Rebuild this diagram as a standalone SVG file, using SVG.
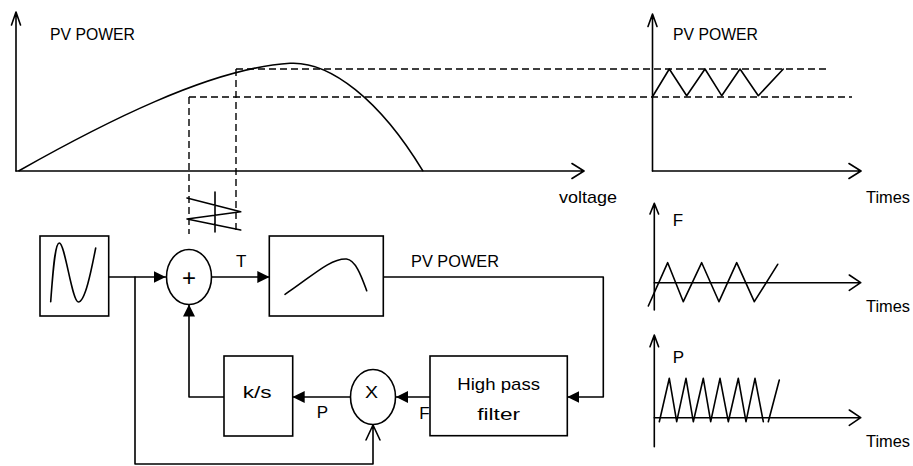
<svg xmlns="http://www.w3.org/2000/svg" width="913" height="466" viewBox="0 0 913 466">
<style>
  .ln{fill:none;stroke:#000;stroke-width:1.6;stroke-linejoin:round;stroke-linecap:round}
  .ds{fill:none;stroke:#000;stroke-width:1.4;stroke-dasharray:7 4}
  .bx{fill:#fff;stroke:#000;stroke-width:1.6}
  .ah{fill:#000;stroke:none}
  text{font-family:"Liberation Sans",Arial,sans-serif;font-size:17px;fill:#000}
</style>
<defs>
  <marker id="tri" viewBox="0 0 12 12" refX="12" refY="6" markerWidth="12" markerHeight="12" markerUnits="userSpaceOnUse" orient="auto">
    <path d="M0,0 L12,6 L0,12 Z" fill="#000"/>
  </marker>
</defs>
<rect width="913" height="466" fill="#fff"/>

<!-- Top-left P-V chart -->
<g id="pv-chart">
  <path class="ln" d="M16,171 V12 M11.5,25 L16,12 L20.5,25"/>
  <path class="ln" d="M16,171 H584 M572,163.5 L584,171 L572,178.5"/>
  <path class="ln" d="M19,170.7 C100,125 210,68 290,63.3 C330,61 380,100 422.7,170.7"/>
  <path class="ds" d="M236,69 H827 M189,97 H852 M189,97 V234 M236,69 V234"/>
  <path class="ln" d="M187,198 L240.7,211.7 L187,219 L240.7,230 M215,192 V232"/>
  <text x="50" y="40" textLength="85" lengthAdjust="spacingAndGlyphs">PV POWER</text>
  <text x="559" y="203" textLength="58" lengthAdjust="spacingAndGlyphs">voltage</text>
</g>

<!-- Top-right power vs time chart -->
<g id="power-time-chart">
  <path class="ln" d="M652.5,171 V14 M648,26.5 L652.5,14 L657,26.5"/>
  <path class="ln" d="M652.5,171 H861 M849,163.5 L861,171 L849,178.5"/>
  <path class="ln" d="M652.3,97 L669.3,69 L686.7,95.7 L705,69 L721.7,95.7 L740,69 L758.3,95.7 L783.3,69"/>
  <text x="673" y="40" textLength="85" lengthAdjust="spacingAndGlyphs">PV POWER</text>
  <text x="866" y="203" textLength="44" lengthAdjust="spacingAndGlyphs">Times</text>
</g>

<!-- F chart -->
<g id="f-chart">
  <path class="ln" d="M654.3,310 V203.3 M650,214 L654.3,203.3 L658.6,214"/>
  <path class="ln" d="M654.3,282.7 H860.7 M849.3,275 L860.7,282.7 L849.3,290.4"/>
  <path class="ln" d="M648.3,306 L667.7,262.7 L683.3,301.7 L701.7,262.7 L719,301.7 L736.7,262.7 L754.3,301.7 L777.7,264.3"/>
  <text x="672.7" y="226">F</text>
  <text x="866" y="312" textLength="44" lengthAdjust="spacingAndGlyphs">Times</text>
</g>

<!-- P chart -->
<g id="p-chart">
  <path class="ln" d="M654.3,446.7 V335 M650,346.7 L654.3,335 L658.6,346.7"/>
  <path class="ln" d="M654.3,417.7 H860.7 M849.3,410 L860.7,417.7 L849.3,425.4"/>
  <path class="ln" d="M659.3,421.7 L669.3,378.3 L676.7,421.7 L686,378.3 L693.3,421.7 L703.3,378.3 L710.7,421.7 L720,378.3 L728.3,421.7 L738.3,378.3 L746,421.7 L755,378.3 L763.3,421.7 M768.3,421.7 L779.3,380"/>
  <text x="672.7" y="363">P</text>
  <text x="866" y="446.5" textLength="44" lengthAdjust="spacingAndGlyphs">Times</text>
</g>

<!-- Connectors -->
<g id="connectors">
  <path class="ln" d="M109,277 H165.7" marker-end="url(#tri)"/>
  <path class="ln" d="M211.5,277 H269.3" marker-end="url(#tri)"/>
  <path class="ln" d="M383.3,277 H603.3 V397 H567.3" marker-end="url(#tri)"/>
  <path class="ln" d="M430,397 H396" marker-end="url(#tri)"/>
  <path class="ln" d="M350.2,397 H292.7" marker-end="url(#tri)"/>
  <path class="ln" d="M224,397 H189 V304.5" marker-end="url(#tri)"/>
  <path class="ln" d="M135,277 V464 H373 V425 M366,440 L373,425 L380,440"/>
  <text x="236" y="266.7">T</text>
  <text x="411" y="266.7" textLength="88" lengthAdjust="spacingAndGlyphs">PV POWER</text>
  <text x="316.7" y="418">P</text>
  <text x="419.3" y="418.5">F</text>
</g>

<!-- Nodes -->
<g id="sine-source">
  <rect class="bx" x="40" y="236" width="68.7" height="80"/>
  <path class="ln" d="M50.7,301.7 C53,270 55,243 59.3,243 C65,243 72,302 78.3,302 C85,302 91,272 95.7,248"/>
</g>
<g id="summer">
  <ellipse class="bx" cx="189" cy="277" rx="22.5" ry="27.5"/>
  <text x="189" y="286" text-anchor="middle" style="font-size:24px">+</text>
</g>
<g id="pv-block">
  <rect class="bx" x="269.3" y="236" width="114" height="80"/>
  <path class="ln" d="M285,294.3 C310,278 330,258 346.5,259 C356,260 362,278 366.7,290.7"/>
</g>
<g id="high-pass-filter">
  <rect class="bx" x="430" y="356" width="137.3" height="79.7"/>
  <text x="457.3" y="390" textLength="82.7" lengthAdjust="spacingAndGlyphs">High pass</text>
  <text x="477.3" y="420" textLength="42.7" lengthAdjust="spacingAndGlyphs">filter</text>
</g>
<g id="multiplier">
  <ellipse class="bx" cx="373" cy="397" rx="22.5" ry="27.5"/>
  <text x="365" y="398" textLength="13" lengthAdjust="spacingAndGlyphs">X</text>
</g>
<g id="integrator">
  <rect class="bx" x="224" y="356" width="68.7" height="80"/>
  <text x="242.7" y="398" textLength="29" lengthAdjust="spacingAndGlyphs">k/s</text>
</g>
</svg>
